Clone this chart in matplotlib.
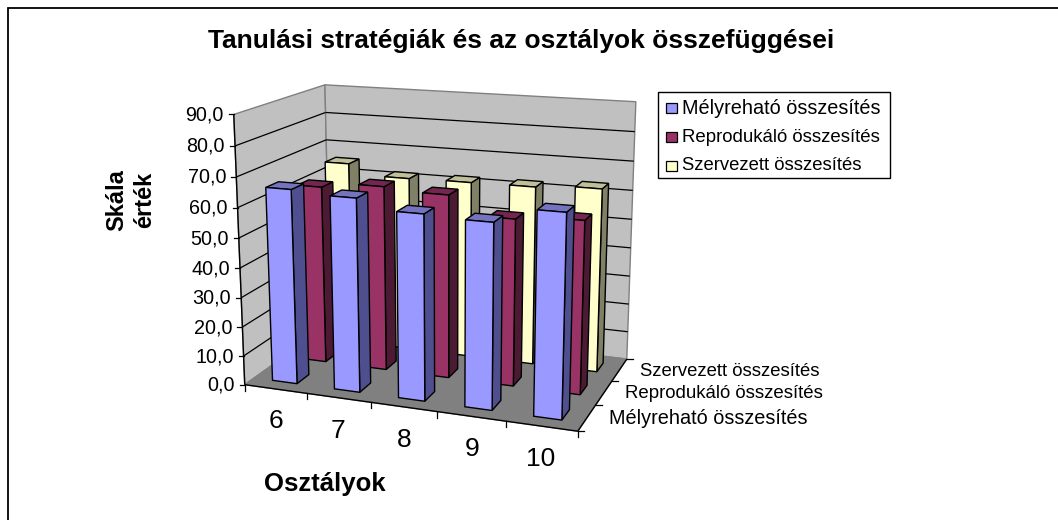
"""
Excel style 3D column chart, drawn by projecting the value cube onto the picture.
Output: out.png
"""
import matplotlib
matplotlib.use('Agg')
import matplotlib.pyplot as plt
from matplotlib.patches import Polygon, Rectangle
import numpy as np

plt.rcParams['font.family'] = ['Liberation Sans', 'DejaVu Sans']

# ── data ──────────────────────────────────────────────────────────────────
classes = ['6', '7', '8', '9', '10']
series_names = ['Mélyreható összesítés', 'Reprodukáló összesítés', 'Szervezett összesítés']
melyrehato = [65.7, 64.7, 61.5, 60.8, 65.8]
reprodukalo = [61.7, 63.6, 62.6, 56.5, 58.0]
szervezett = [65.3, 61.7, 62.0, 62.2, 63.3]
value_ticks = [0, 10, 20, 30, 40, 50, 60, 70, 80, 90]
tick_labels = ['0,0', '10,0', '20,0', '30,0', '40,0', '50,0', '60,0', '70,0', '80,0', '90,0']

# front, side, top colours per series
colors = [('#9999FF', '#4F4F8F', '#7373BF'),
          ('#993366', '#4D1A33', '#732650'),
          ('#FFFFCC', '#808066', '#BFBF99')]
# the series names need slightly different sizes to get the reference widths
name_sizes = [14.3, 13.4, 13.3]

# ── camera: fit a perspective matrix to the corners of the chart box ──────
W, H = 1058, 520
zmax = value_ticks[-1]
nx, ny = len(classes), len(series_names)
cube = [(0, 0, 0), (nx, 0, 0), (nx, ny, 0), (0, ny, 0),
        (0, 0, zmax), (0, ny, zmax), (nx, ny, zmax)]
screen = [(244.3, 385), (577.7, 431), (626.7, 359.3), (331, 323.3),
          (234.3, 114.3), (324.3, 85), (636, 101.7)]

rows = []
for (x, y, z), (u, v) in zip(cube, screen):
    rows.append([x, y, z, 1, 0, 0, 0, 0, -u*x, -u*y, -u*z, -u])
    rows.append([0, 0, 0, 0, x, y, z, 1, -v*x, -v*y, -v*z, -v])
cam = np.linalg.svd(np.array(rows, float))[2][-1].reshape(3, 4)


def proj(x, y, z):
    u, v, w = cam @ np.array([x, y, z, 1.0])
    return u / w, v / w


def face(ax, pts, color, edge='black', lw=1.0, zorder=2):
    ax.add_patch(Polygon([proj(*p) for p in pts], closed=True, facecolor=color,
                         edgecolor=edge, lw=lw, joinstyle='miter', zorder=zorder))


def line(ax, a, b, color='black', lw=0.9, zorder=1.5):
    pa, pb = proj(*a), proj(*b)
    ax.plot([pa[0], pb[0]], [pa[1], pb[1]], color=color, lw=lw, zorder=zorder,
            solid_capstyle='butt')


fig = plt.figure(figsize=(W / 100, H / 100), dpi=100)
ax = fig.add_axes([0, 0, 1, 1])
ax.set_xlim(0, W)
ax.set_ylim(H, 0)
ax.axis('off')

# frame runs off the right and bottom of the picture
ax.plot([7.5, 7.5, W], [H, 7.5, 7.5], color='black', lw=1.3, solid_joinstyle='miter')

# ── walls and floor ───────────────────────────────────────────────────────
face(ax, [(0, 0, 0), (0, ny, 0), (0, ny, zmax), (0, 0, zmax)], '#C0C0C0', edge='#808080', zorder=1)
face(ax, [(0, ny, 0), (nx, ny, 0), (nx, ny, zmax), (0, ny, zmax)], '#C0C0C0', edge='#808080', zorder=1)
face(ax, [(0, 0, 0), (nx, 0, 0), (nx, ny, 0), (0, ny, 0)], '#808080', edge='#808080', zorder=1.2)

for val, lab in zip(value_ticks, tick_labels):
    if 0 < val < zmax:
        line(ax, (0, 0, val), (0, ny, val))
        line(ax, (0, ny, val), (nx, ny, val))
    u, v = proj(0, 0, val)
    ax.plot([u - 5, u], [v, v], color='black', lw=0.9, zorder=1.5)
    ax.text(u - 10, v + 0.5, lab, ha='right', va='center', fontsize=14.2)

# axes lines and ticks
line(ax, (0, 0, 0), (0, 0, zmax), lw=1.0)
line(ax, (0, 0, 0), (nx, 0, 0), lw=1.0)
line(ax, (nx, 0, 0), (nx, ny, 0), lw=1.0)
for i in range(nx + 1):
    u, v = proj(i, 0, 0)
    ax.plot([u, u], [v, v + 6], color='black', lw=0.9, zorder=1.5)
for j in range(ny + 1):
    u, v = proj(nx, j, 0)
    ax.plot([u, u + 6], [v, v], color='black', lw=0.9, zorder=1.5)

# ── bars, back row first ──────────────────────────────────────────────────
all_values = [melyrehato, reprodukalo, szervezett]
for j in range(ny - 1, -1, -1):
    front, side, top = colors[j]
    for i, val in enumerate(all_values[j]):
        x0, x1 = i + 0.3, i + 0.7
        y0, y1 = j + 0.3, j + 0.7
        face(ax, [(x1, y0, 0), (x1, y1, 0), (x1, y1, val), (x1, y0, val)], side)
        face(ax, [(x0, y0, val), (x1, y0, val), (x1, y1, val), (x0, y1, val)], top)
        face(ax, [(x0, y0, 0), (x1, y0, 0), (x1, y0, val), (x0, y0, val)], front)

# ── text ──────────────────────────────────────────────────────────────────
ax.text(521, 41, 'Tanulási stratégiák és az osztályok összefüggései', ha='center', va='center',
        fontsize=19, fontweight='bold')
ax.text(325, 484, 'Osztályok', ha='center', va='center', fontsize=18.5, fontweight='bold')
ax.text(117, 200, 'Skála', ha='center', va='center', rotation=90, fontsize=17, fontweight='bold')
ax.text(145, 200, 'érték', ha='center', va='center', rotation=90, fontsize=17, fontweight='bold')

for cls, (u, v) in zip(classes, [(276, 421), (338, 431), (404, 440), (472, 449), (541, 459)]):
    ax.text(u, v, cls, ha='center', va='center', fontsize=19)
for name, size, (u, v) in zip(series_names, name_sizes, [(609, 419), (625, 393), (640, 372)]):
    ax.text(u, v, name, ha='left', va='center', fontsize=size)

# legend
ax.add_patch(Rectangle((657.5, 91.5), 232, 86, facecolor='white', edgecolor='black', lw=1.0, zorder=3))
for name, size, (front, _, _), v in zip(series_names, name_sizes, colors, [108, 137, 166]):
    ax.add_patch(Rectangle((665.5, v - 5), 11, 10, facecolor=front, edgecolor='black', lw=0.9, zorder=4))
    ax.text(682.5, v, name, ha='left', va='center', fontsize=size, zorder=4)

fig.savefig('out.png', dpi=100)
plt.close(fig)
